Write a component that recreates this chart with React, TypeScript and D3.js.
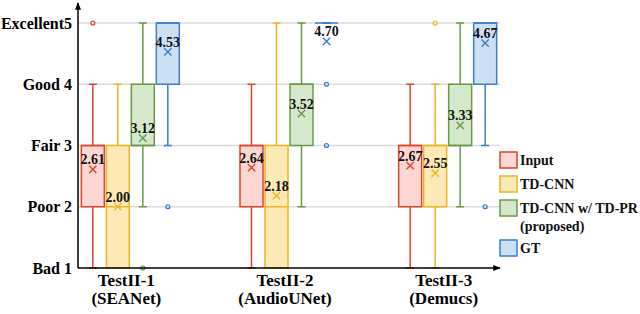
import * as d3 from "d3";
import { useEffect, useRef } from "react";

// groups along the x axis
const groupNames = ["TestII-1", "TestII-2", "TestII-3"];
const groupModels = ["(SEANet)", "(AudioUNet)", "(Demucs)"];

// series (one box per group)
const seriesKeys = ["Input", "TD-CNN", "TD-PR", "GT"];
const legendLines = [["Input"], ["TD-CNN"], ["TD-CNN w/ TD-PR", "(proposed)"], ["GT"]];
const strokeColors = ["#d9452f", "#e8b623", "#6a9a47", "#3a7fc7"];
const fillColors = ["#fcd6d2", "#fde9b6", "#d4e9cc", "#cde0f3"];

// y ticks
const tickValues = [1, 2, 3, 4, 5];
const tickLabels = ["Bad 1", "Poor 2", "Fair 3", "Good 4", "Excellent5"];

// box statistics per series, per group
const whiskerLow = [
  [1, 1, 1],
  [1, 1, 1],
  [2, 2, 2],
  [3, 5, 3],
];
const q1 = [
  [2, 2, 2],
  [1, 1, 2],
  [3, 3, 3],
  [4, 5, 4],
];
const median = [
  [3, 3, 3],
  [2, 2, 3],
  [3, 4, 3],
  [5, 5, 5],
];
const q3 = [
  [3, 3, 3],
  [3, 3, 3],
  [4, 4, 4],
  [5, 5, 5],
];
const whiskerHigh = [
  [4, 4, 4],
  [4, 5, 4],
  [5, 5, 5],
  [5, 5, 5],
];
const means = [
  [2.61, 2.64, 2.67],
  [2.0, 2.18, 2.55],
  [3.12, 3.52, 3.33],
  [4.53, 4.7, 4.67],
];
const outliers = [
  [[5], [], []],
  [[], [], [5]],
  [[1], [], []],
  [[2], [3, 4], [2]],
];

const FONT = "'Liberation Serif', serif";

const BoxChart = ({ width, height }) => {
  const svgRef = useRef(null);

  useEffect(() => {
    const svg = d3.select(svgRef.current).attr("width", width).attr("height", height);
    svg.selectAll("*").remove();

    // bold serif text helper
    const label = (sel, size) =>
      sel
        .style("font-family", FONT)
        .style("font-weight", "bold")
        .style("font-size", `${size}px`);

    const axisLeft = 78;
    const axisRight = 500;

    const y = d3.scaleLinear().domain([1, 5]).range([268, 23]);
    const x = d3.scaleBand().domain(groupNames).range([51, 527]);
    const inner = d3.scaleBand().domain(seriesKeys).range([-50, 50]);
    const boxW = 23;
    const capW = 8;

    // grid
    svg
      .selectAll("line.grid")
      .data(tickValues.slice(1))
      .join("line")
      .attr("class", "grid")
      .attr("x1", axisLeft)
      .attr("x2", axisRight)
      .attr("y1", (d) => y(d))
      .attr("y2", (d) => y(d))
      .attr("stroke", "#dcdcdc")
      .attr("stroke-width", 1.5);

    // y tick labels
    svg
      .selectAll("text.ytick")
      .data(tickValues)
      .join("text")
      .attr("class", "ytick")
      .attr("x", 72)
      .attr("y", (d) => y(d))
      .attr("dy", "0.35em")
      .attr("text-anchor", "end")
      .call(label, 16)
      .text((d, i) => tickLabels[i]);

    // boxes
    seriesKeys.forEach((key, s) => {
      const g = svg.append("g");
      groupNames.forEach((gn, gi) => {
        const cx = x(gn) + x.bandwidth() / 2 + inner(key) + inner.bandwidth() / 2;
        const stroke = strokeColors[s];
        // whiskers
        g.append("line")
          .attr("x1", cx)
          .attr("x2", cx)
          .attr("y1", y(whiskerLow[s][gi]))
          .attr("y2", y(whiskerHigh[s][gi]))
          .attr("stroke", stroke)
          .attr("stroke-width", 1.5);
        [whiskerLow[s][gi], whiskerHigh[s][gi]].forEach((v) => {
          g.append("line")
            .attr("x1", cx - capW / 2)
            .attr("x2", cx + capW / 2)
            .attr("y1", y(v))
            .attr("y2", y(v))
            .attr("stroke", stroke)
            .attr("stroke-width", 1.5);
        });
        // box
        g.append("rect")
          .attr("x", cx - boxW / 2)
          .attr("width", boxW)
          .attr("y", y(q3[s][gi]))
          .attr("height", Math.max(y(q1[s][gi]) - y(q3[s][gi]), 0))
          .attr("fill", fillColors[s])
          .attr("stroke", stroke)
          .attr("stroke-width", 1.5);
        // median
        g.append("line")
          .attr("x1", cx - boxW / 2)
          .attr("x2", cx + boxW / 2)
          .attr("y1", y(median[s][gi]))
          .attr("y2", y(median[s][gi]))
          .attr("stroke", stroke)
          .attr("stroke-width", 1.5);
        // outliers
        outliers[s][gi].forEach((v) => {
          g.append("circle")
            .attr("cx", cx)
            .attr("cy", y(v))
            .attr("r", 2)
            .attr("fill", fillColors[s])
            .attr("stroke", stroke)
            .attr("stroke-width", 1.2);
        });
        // mean marker + value
        const m = means[s][gi];
        g.append("path")
          .attr("transform", `translate(${cx},${y(m)})`)
          .attr("d", d3.symbol().type(d3.symbolX).size(36)())
          .attr("fill", "none")
          .attr("stroke", stroke)
          .attr("stroke-width", 1.4);
        g.append("text")
          .attr("x", cx)
          .attr("y", y(m) - 5)
          .attr("text-anchor", "middle")
          .attr("fill", "#111")
          .call(label, 14)
          .text(m.toFixed(2));
      });
    });

    // axes with arrows
    svg
      .append("defs")
      .append("marker")
      .attr("id", "arrow")
      .attr("viewBox", "0 0 10 10")
      .attr("refX", 9)
      .attr("refY", 5)
      .attr("markerWidth", 5)
      .attr("markerHeight", 5)
      .attr("orient", "auto")
      .append("path")
      .attr("d", "M0,1 L10,5 L0,9 Z")
      .attr("fill", "#000");
    svg
      .append("line")
      .attr("x1", axisLeft)
      .attr("x2", axisLeft)
      .attr("y1", y(1))
      .attr("y2", 3)
      .attr("stroke", "#000")
      .attr("stroke-width", 1.5)
      .attr("marker-end", "url(#arrow)");
    svg
      .append("line")
      .attr("x1", axisLeft)
      .attr("x2", axisRight)
      .attr("y1", y(1))
      .attr("y2", y(1))
      .attr("stroke", "#000")
      .attr("stroke-width", 1.5)
      .attr("marker-end", "url(#arrow)");

    // x group labels
    groupNames.forEach((gn, gi) => {
      const cx = x(gn) + x.bandwidth() / 2 - 4;
      const t = svg.append("text").attr("text-anchor", "middle").call(label, 17);
      t.append("tspan").attr("x", cx).attr("y", 286).text(gn);
      t.append("tspan").attr("x", cx).attr("y", 304).text(groupModels[gi]);
    });

    // legend
    let ly = 160;
    legendLines.forEach((lines, s) => {
      svg
        .append("rect")
        .attr("x", 500)
        .attr("y", ly - 8)
        .attr("width", 17)
        .attr("height", 16)
        .attr("fill", fillColors[s])
        .attr("stroke", strokeColors[s])
        .attr("stroke-width", 1.5);
      const t = svg.append("text").attr("fill", "#111").call(label, 14);
      lines.forEach((line, li) => {
        t.append("tspan").attr("x", 520).attr("y", ly + 5 + li * 18).text(line);
      });
      ly += 24 + (lines.length - 1) * 16;
    });
  }, [width, height]);

  return <svg ref={svgRef}></svg>;
};

export default function App() {
  return (
    <div style={{ position: "absolute", left: 0, top: 0 }}>
      <BoxChart width={640} height={314} />
    </div>
  );
}
